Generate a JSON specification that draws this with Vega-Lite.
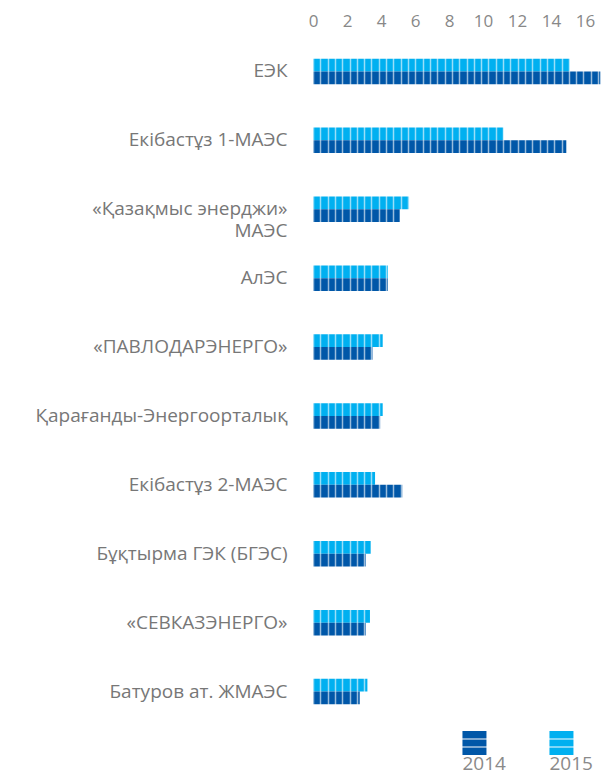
{
  "$schema": "https://vega.github.io/schema/vega-lite/v6.json",
  "padding": {"left": 13, "top": 5, "right": 0, "bottom": 0},
  "spacing": 0,
  "config": {"view": {"stroke": null}, "font": "Open Sans"},
  "datasets": {
    "gen": [
      {"station": "ЕЭК", "year": 2015, "value": 15.1},
      {"station": "ЕЭК", "year": 2014, "value": 16.9},
      {"station": "Екібастұз 1-МАЭС", "year": 2015, "value": 11.2},
      {"station": "Екібастұз 1-МАЭС", "year": 2014, "value": 14.9},
      {"station": "«Қазақмыс энерджи» МАЭС", "year": 2015, "value": 5.65},
      {"station": "«Қазақмыс энерджи» МАЭС", "year": 2014, "value": 5.1},
      {"station": "АлЭС", "year": 2015, "value": 4.4},
      {"station": "АлЭС", "year": 2014, "value": 4.4},
      {"station": "«ПАВЛОДАРЭНЕРГО»", "year": 2015, "value": 4.1},
      {"station": "«ПАВЛОДАРЭНЕРГО»", "year": 2014, "value": 3.5},
      {"station": "Қарағанды-Энергоорталық", "year": 2015, "value": 4.1},
      {"station": "Қарағанды-Энергоорталық", "year": 2014, "value": 3.95},
      {"station": "Екібастұз 2-МАЭС", "year": 2015, "value": 3.65},
      {"station": "Екібастұз 2-МАЭС", "year": 2014, "value": 5.25},
      {"station": "Бұқтырма ГЭК (БГЭС)", "year": 2015, "value": 3.4},
      {"station": "Бұқтырма ГЭК (БГЭС)", "year": 2014, "value": 3.1},
      {"station": "«СЕВКАЗЭНЕРГО»", "year": 2015, "value": 3.35},
      {"station": "«СЕВКАЗЭНЕРГО»", "year": 2014, "value": 3.1},
      {"station": "Батуров ат. ЖМАЭС", "year": 2015, "value": 3.2},
      {"station": "Батуров ат. ЖМАЭС", "year": 2014, "value": 2.75}
    ],
    "years": [{"year": 2014}, {"year": 2015}]
  },
  "vconcat": [
    {
      "width": 289,
      "height": 689,
      "data": {"name": "gen"},
      "encoding": {
        "y": {
          "field": "station", "type": "nominal", "sort": null,
          "scale": {"paddingInner": 0.63, "paddingOuter": 0.315},
          "axis": {
            "title": null, "domain": false, "ticks": false, "labelPadding": 26,
            "labelFontSize": 19, "labelColor": "#777777", "labelFont": "Open Sans",
            "labelLimit": 400, "minExtent": 300, "maxExtent": 300, "labelLineHeight": 22,
            "labelExpr": "datum.label == '«Қазақмыс энерджи» МАЭС' ? ['«Қазақмыс энерджи»', 'МАЭС'] : datum.label"
          }
        },
        "yOffset": {"field": "year", "type": "nominal", "sort": [2015, 2014], "scale": {"paddingInner": 0, "paddingOuter": 0}},
        "color": {"field": "year", "type": "nominal", "scale": {"domain": [2014, 2015], "range": ["#0057a8", "#00b0f0"]}, "legend": null}
      },
      "layer": [
        {
          "mark": {"type": "bar"},
          "encoding": {
            "x": {
              "field": "value", "type": "quantitative",
              "scale": {"domain": [0, 17], "nice": false, "clamp": true},
              "axis": {
                "orient": "top", "values": [0, 2, 4, 6, 8, 10, 12, 14, 16], "domain": false, "ticks": false, "tickSize": 0,
                "labelPadding": 7, "labelFontSize": 17, "labelColor": "#888888", "labelFont": "Open Sans",
                "grid": false, "title": null, "labelFlush": false, "labelOverlap": false,
                "minExtent": 31.5, "maxExtent": 31.5
              }
            }
          }
        },
        {
          "mark": {"type": "bar", "opacity": 0},
          "encoding": {
            "x": {
              "field": "value", "type": "quantitative",
              "axis": {
                "orient": "bottom", "grid": true, "gridColor": "#ffffff", "gridOpacity": 0.6, "gridWidth": 1.5,
                "labels": false, "ticks": false, "domain": false, "title": null, "zindex": 1,
                "minExtent": 0, "maxExtent": 0,
                "values": [0, 0.43, 0.86, 1.29, 1.72, 2.15, 2.58, 3.01, 3.44, 3.87, 4.3, 4.73, 5.16, 5.59, 6.02, 6.45, 6.88, 7.31, 7.74, 8.17, 8.6, 9.03, 9.46, 9.89, 10.32, 10.75, 11.18, 11.61, 12.04, 12.47, 12.9, 13.33, 13.76, 14.19, 14.62, 15.05, 15.48, 15.91, 16.34, 16.77]
              }
            }
          }
        }
      ],
      "resolve": {"axis": {"x": "independent"}}
    },
    {
      "width": 289,
      "height": 34,
      "data": {"name": "years"},
      "encoding": {
        "x": {"field": "year", "type": "quantitative", "scale": {"domain": [2012.144, 2015.466], "nice": false, "zero": false}, "axis": null}
      },
      "layer": [
        {
          "mark": {"type": "point", "filled": true, "opacity": 1, "size": 576, "shape": "M-1,-1H1V-0.38H-1Z M-1,-0.3H1V0.3H-1Z M-1,0.38H1V1H-1Z"},
          "encoding": {
            "color": {"field": "year", "type": "nominal", "scale": {"domain": [2014, 2015], "range": ["#0057a8", "#00b0f0"]}, "legend": null}
          }
        },
        {
          "mark": {"type": "text", "align": "left", "baseline": "top", "dx": -12, "dy": 12, "fontSize": 19, "font": "Open Sans", "color": "#8a8a8a"},
          "encoding": {"text": {"field": "year", "type": "nominal"}}
        }
      ]
    }
  ]
}
